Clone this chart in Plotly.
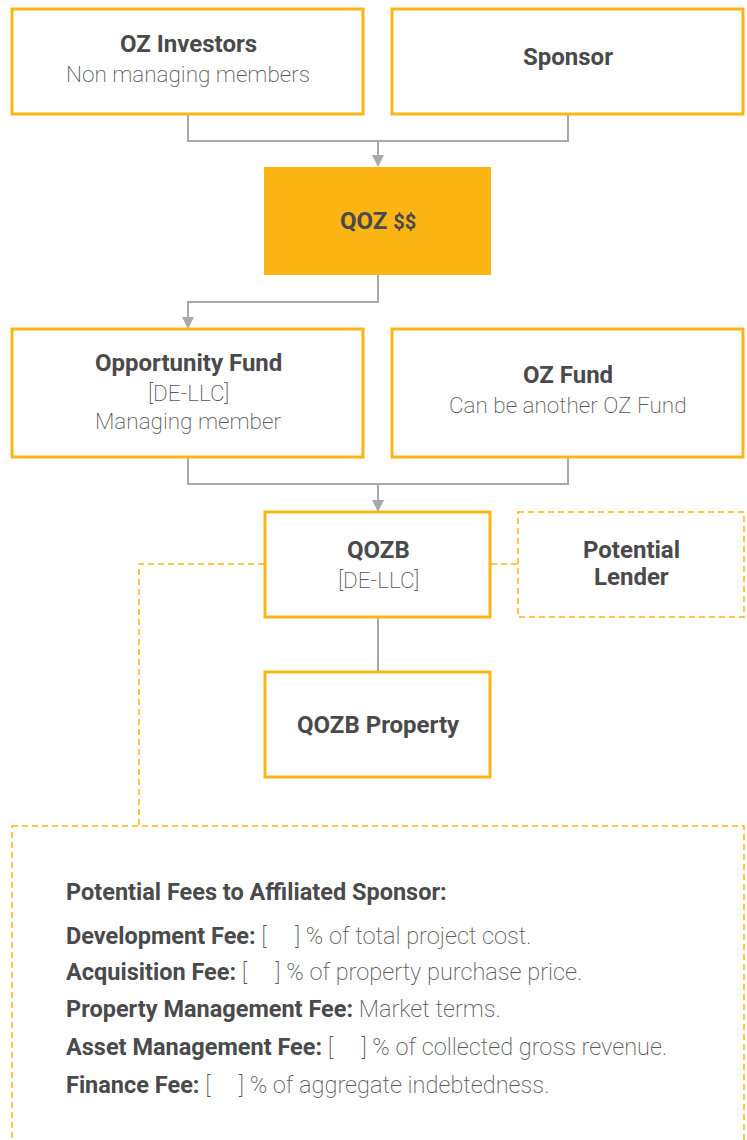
import plotly.graph_objects as go

# ---- diagram content ----
node_titles = ["OZ Investors", "Sponsor", "QOZ <span style='font-size:20px'>$$</span>",
               "Opportunity Fund", "OZ Fund", "QOZB", "Potential", "QOZB Property"]
node_subtitles = [["Non managing members"], [], [], ["[DE-LLC]", "Managing member"],
                  ["Can be another OZ Fund"], ["[DE-LLC]"], [], []]
lender_second_line = "Lender"

fees_heading = "Potential Fees to Affiliated Sponsor:"
fee_names = ["Development Fee:", "Acquisition Fee:", "Property Management Fee:",
             "Asset Management Fee:", "Finance Fee:"]
B = "[\u00a0\u00a0\u00a0\u00a0\u00a0]"
fee_terms = [B + " % of total project cost.", B + " % of property purchase price.",
             "Market terms.", B + " % of collected gross revenue.",
             B + " % of aggregate indebtedness."]

# ---- layout geometry (pixel space of the page) ----
W, H = 747, 1140
ORANGE = "#FDB515"
GRAY = "#A7A9AC"
DARK = "#4A4A4C"
LIGHT = "#58595B"

# x0, x1, y0, y1, style
boxes = [
    (12, 363, 9, 114, "solid"),
    (392, 743, 9, 114, "solid"),
    (264, 491, 167, 275, "fill"),
    (12, 363, 329, 457, "solid"),
    (392, 743, 329, 457, "solid"),
    (265, 490, 512, 617, "solid"),
    (518, 744, 512, 617, "dash"),
    (265, 490, 672, 777, "solid"),
]
title_pos = [(188, 44), (568, 57), (378, 221), (188, 363), (568, 375), (378, 550), (631, 550), (378, 725)]
sub_pos = [[74], [], [], [393, 421], [405], [580], [], []]

fig = go.Figure()
shapes = []
for (x0, x1, y0, y1, st) in boxes:
    if st == "fill":
        shapes.append(dict(type="rect", x0=x0, x1=x1, y0=y0, y1=y1,
                           fillcolor=ORANGE, line=dict(color=ORANGE, width=0), layer="below"))
    elif st == "solid":
        shapes.append(dict(type="rect", x0=x0, x1=x1, y0=y0, y1=y1,
                           fillcolor="white", line=dict(color=ORANGE, width=3)))
    else:
        shapes.append(dict(type="rect", x0=x0, x1=x1, y0=y0, y1=y1,
                           fillcolor="rgba(0,0,0,0)", line=dict(color=ORANGE, width=1.5, dash="6px,4px")))

shapes.append(dict(type="rect", x0=12, x1=744, y0=826, y1=1170,
                   fillcolor="rgba(0,0,0,0)", line=dict(color=ORANGE, width=1.5, dash="6px,4px")))

gray_paths = [
    "M188,115 L188,141 L568,141 L568,115",
    "M378,141 L378,160",
    "M378,275 L378,302 L188,302 L188,322",
    "M188,458 L188,484 L568,484 L568,458",
    "M378,484 L378,505",
    "M378,618 L378,671",
]
for p in gray_paths:
    shapes.append(dict(type="path", path=p, line=dict(color=GRAY, width=2)))

dash_paths = [
    "M491,564 L518,564",
    "M264,564 L139,564 L139,826",
]
for p in dash_paths:
    shapes.append(dict(type="path", path=p, line=dict(color=ORANGE, width=1.5, dash="6px,4px")))

annotations = []
for (ax_, ay0, ay1) in [(378, 141, 167), (188, 302, 329), (378, 484, 512)]:
    annotations.append(dict(x=ax_, y=ay1, ax=ax_, ay=ay1 - 12, xref="x", yref="y", axref="x", ayref="y",
                            text="", showarrow=True, arrowhead=2, arrowsize=1.2, arrowwidth=2,
                            arrowcolor=GRAY))

FONT = "Roboto"
for i, t in enumerate(node_titles):
    x, y = title_pos[i]
    annotations.append(dict(x=x, y=y, text=t, showarrow=False, xanchor="center", yanchor="middle",
                            font=dict(family=FONT, size=24, color=DARK, weight=700)))
    for s, sy in zip(node_subtitles[i], sub_pos[i]):
        annotations.append(dict(x=x, y=sy, text=s, showarrow=False, xanchor="center", yanchor="middle",
                                font=dict(family=FONT, size=22.5, color=LIGHT, weight=200)))
annotations.append(dict(x=631, y=577, text=lender_second_line, showarrow=False, xanchor="center",
                        yanchor="middle", font=dict(family=FONT, size=24, color=DARK, weight=700)))

annotations.append(dict(x=64, y=892, text=fees_heading, showarrow=False, xanchor="left", yanchor="middle",
                        font=dict(family=FONT, size=23.5, color=DARK, weight=700)))
fee_ys = [936, 972, 1009, 1047, 1085]
for n, t, y in zip(fee_names, fee_terms, fee_ys):
    annotations.append(dict(x=64, y=y,
                            text=f"<span style='color:{DARK};font-weight:700'>{n}</span> {t}",
                            showarrow=False, xanchor="left", yanchor="middle",
                            font=dict(family=FONT, size=23.5, color=LIGHT, weight=200)))

fig.update_layout(
    width=W, height=H, margin=dict(l=0, r=0, t=0, b=0),
    paper_bgcolor="white", plot_bgcolor="white",
    xaxis=dict(range=[0, W], visible=False, fixedrange=True),
    yaxis=dict(range=[H, 0], visible=False, fixedrange=True),
    shapes=shapes, annotations=annotations, showlegend=False,
)
fig.write_html("out.html", config={"displayModeBar": False},
               post_script="document.body.style.margin='0';document.body.style.overflow='hidden';")
